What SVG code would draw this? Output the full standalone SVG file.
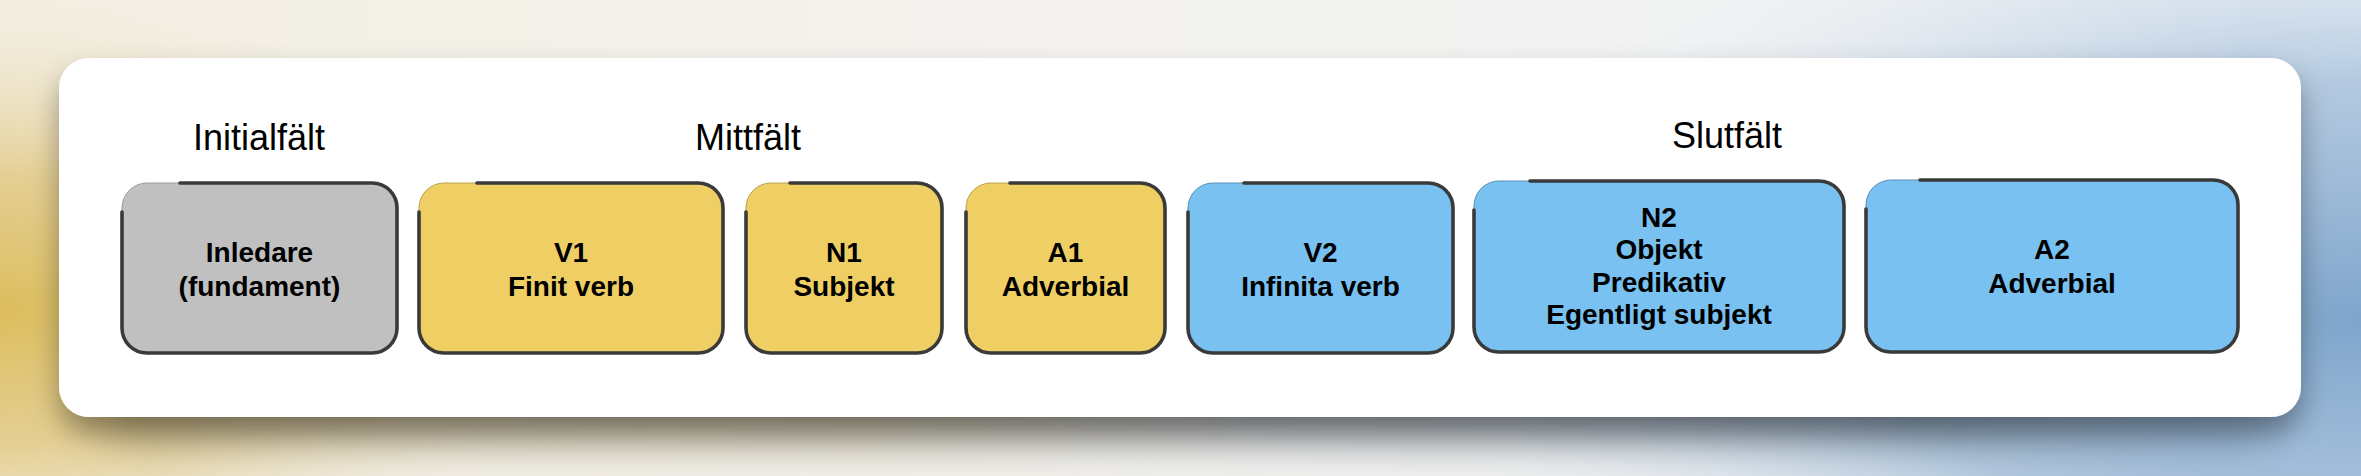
<svg xmlns="http://www.w3.org/2000/svg" width="2361" height="476" viewBox="0 0 2361 476">
<defs>
<radialGradient id="gy" cx="0" cy="310" r="560" gradientUnits="userSpaceOnUse" gradientTransform="translate(0,310) scale(1,0.6) translate(0,-310)">
<stop offset="0" stop-color="#dcbd5c"/>
<stop offset="0.4" stop-color="#e2c985" stop-opacity="0.85"/>
<stop offset="1" stop-color="#f3efe4" stop-opacity="0"/>
</radialGradient>
<radialGradient id="gb" cx="2361" cy="320" r="950" gradientUnits="userSpaceOnUse" gradientTransform="translate(2361,320) scale(1,0.5) translate(-2361,-320)">
<stop offset="0" stop-color="#7ea5cc"/>
<stop offset="0.5" stop-color="#a9c2dc" stop-opacity="0.85"/>
<stop offset="1" stop-color="#eef2f6" stop-opacity="0"/>
</radialGradient>
<linearGradient id="gbase" x1="0" y1="0" x2="1" y2="0">
<stop offset="0" stop-color="#f3eee2"/>
<stop offset="0.5" stop-color="#f4f3f0"/>
<stop offset="1" stop-color="#edf1f6"/>
</linearGradient>
<linearGradient id="band" x1="0" y1="0" x2="1" y2="0">
<stop offset="0" stop-color="#a8996e"/>
<stop offset="0.35" stop-color="#958a6e"/>
<stop offset="0.55" stop-color="#7f8790"/>
<stop offset="0.85" stop-color="#6f8397"/>
<stop offset="1" stop-color="#7d98b4"/>
</linearGradient>
<filter id="blur" x="-10%" y="-100%" width="120%" height="300%">
<feGaussianBlur stdDeviation="24"/>
</filter>
<filter id="sh" x="-5%" y="-20%" width="110%" height="170%">
<feDropShadow dx="0" dy="16" stdDeviation="14" flood-color="#000" flood-opacity="0.35"/>
</filter>
</defs>
<style>
.hd{font-family:"Liberation Sans",Arial,sans-serif;font-size:36px;fill:#000;text-anchor:middle}
.lb{font-family:"Liberation Sans",Arial,sans-serif;font-size:28px;font-weight:bold;fill:#000;text-anchor:middle}
.edge{fill:none;stroke:#3a3a3a;stroke-width:3.6;stroke-linecap:round;stroke-linejoin:round}
.gray{fill:#c0c0c0;stroke:#9a9a9a;stroke-width:1}
.yel{fill:#efcf63;stroke:#b8a050;stroke-width:1}
.blu{fill:#78c1f0;stroke:#5a90b8;stroke-width:1}
</style>
<rect width="2361" height="476" fill="url(#gbase)"/>
<rect width="2361" height="476" fill="url(#gy)"/>
<rect width="2361" height="476" fill="url(#gb)"/>
<rect x="100" y="370" width="2170" height="70" rx="30" fill="url(#band)" opacity="0.85" filter="url(#blur)"/>
<rect x="59" y="58" width="2242" height="359" rx="30" fill="#fff" filter="url(#sh)"/>
<g id="headings">
<text class="hd" x="259" y="150">Initialfält</text>
<text class="hd" x="748" y="150">Mittfält</text>
<text class="hd" x="1727" y="148">Slutfält</text>
</g>
<g id="connectors"></g>
<g id="inledare">
<rect class="gray" x="122" y="183" width="275" height="170" rx="25"/>
<path class="edge" d="M180 183 H372 A25 25 0 0 1 397 208 V328 A25 25 0 0 1 372 353 H147 A25 25 0 0 1 122 328 V212"/>
<text class="lb" x="259.5" y="262">Inledare</text>
<text class="lb" x="259.5" y="296">(fundament)</text>
</g>
<g id="v1">
<rect class="yel" x="419" y="183" width="304" height="170" rx="25"/>
<path class="edge" d="M477 183 H698 A25 25 0 0 1 723 208 V328 A25 25 0 0 1 698 353 H444 A25 25 0 0 1 419 328 V212"/>
<text class="lb" x="571" y="262">V1</text>
<text class="lb" x="571" y="296">Finit verb</text>
</g>
<g id="n1">
<rect class="yel" x="746" y="183" width="196" height="170" rx="25"/>
<path class="edge" d="M790 183 H917 A25 25 0 0 1 942 208 V328 A25 25 0 0 1 917 353 H771 A25 25 0 0 1 746 328 V212"/>
<text class="lb" x="844" y="262">N1</text>
<text class="lb" x="844" y="296">Subjekt</text>
</g>
<g id="a1">
<rect class="yel" x="966" y="183" width="199" height="170" rx="25"/>
<path class="edge" d="M1010 183 H1140 A25 25 0 0 1 1165 208 V328 A25 25 0 0 1 1140 353 H991 A25 25 0 0 1 966 328 V212"/>
<text class="lb" x="1065.5" y="262">A1</text>
<text class="lb" x="1065.5" y="296">Adverbial</text>
</g>
<g id="v2">
<rect class="blu" x="1188" y="183" width="265" height="170" rx="25"/>
<path class="edge" d="M1244 183 H1428 A25 25 0 0 1 1453 208 V328 A25 25 0 0 1 1428 353 H1213 A25 25 0 0 1 1188 328 V212"/>
<text class="lb" x="1320.5" y="262">V2</text>
<text class="lb" x="1320.5" y="296">Infinita verb</text>
</g>
<g id="n2">
<rect class="blu" x="1474" y="181" width="370" height="171" rx="25"/>
<path class="edge" d="M1530 181 H1819 A25 25 0 0 1 1844 206 V327 A25 25 0 0 1 1819 352 H1499 A25 25 0 0 1 1474 327 V210"/>
<text class="lb" x="1659" y="227">N2</text>
<text class="lb" x="1659" y="259">Objekt</text>
<text class="lb" x="1659" y="292">Predikativ</text>
<text class="lb" x="1659" y="324">Egentligt subjekt</text>
</g>
<g id="a2">
<rect class="blu" x="1866" y="180" width="372" height="172" rx="25"/>
<path class="edge" d="M1920 180 H2213 A25 25 0 0 1 2238 205 V327 A25 25 0 0 1 2213 352 H1891 A25 25 0 0 1 1866 327 V209"/>
<text class="lb" x="2052" y="259">A2</text>
<text class="lb" x="2052" y="293">Adverbial</text>
</g>
</svg>
